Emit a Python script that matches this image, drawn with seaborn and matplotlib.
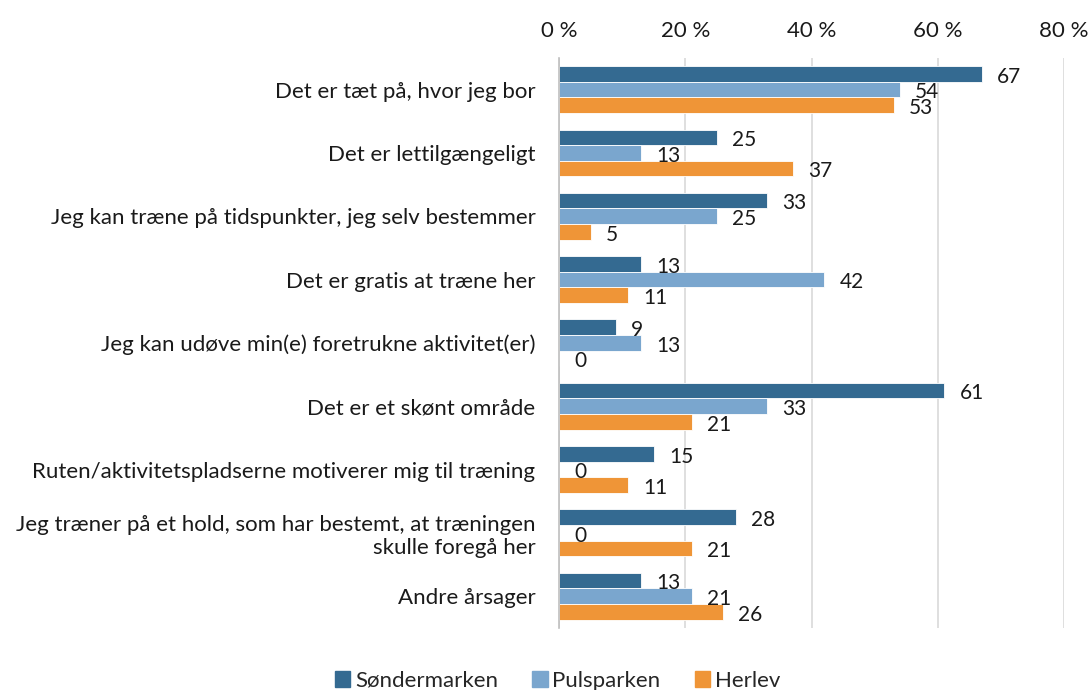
import pandas as pd
import matplotlib.pyplot as plt
import seaborn as sns

categories = [
    'Det er tæt på, hvor jeg bor',
    'Det er lettilgængeligt',
    'Jeg kan træne på tidspunkter, jeg selv bestemmer',
    'Det er gratis at træne her',
    'Jeg kan udøve min(e) foretrukne aktivitet(er)',
    'Det er et skønt område',
    'Ruten/aktivitetspladserne motiverer mig til træning',
    'Jeg træner på et hold, som har bestemt, at træningen\nskulle foregå her',
    'Andre årsager',
]
sondermarken = [67, 25, 33, 13, 9, 61, 15, 28, 13]
pulsparken = [54, 13, 25, 42, 13, 33, 0, 0, 21]
herlev = [53, 37, 5, 11, 0, 21, 11, 21, 26]
series = ['Søndermarken', 'Pulsparken', 'Herlev']
colors = ['#346A91', '#7AA6CE', '#EF9537']

rows = []
for name, vals in zip(series, [sondermarken, pulsparken, herlev]):
    for cat, v in zip(categories, vals):
        rows.append({'kategori': cat, 'park': name, 'pct': v})
df = pd.DataFrame(rows)

sns.set_style('white')
plt.rcParams['font.family'] = ['Lato', 'DejaVu Sans']
fs = 16

fig = plt.figure(figsize=(10.91, 6.9), dpi=100)
ax = fig.add_axes([0.5124, 0.09, 0.4629, 0.826])

sns.barplot(data=df, y='kategori', x='pct', hue='park', hue_order=series,
            palette=colors, orient='h', width=0.74, ax=ax, saturation=1,
            edgecolor='white', linewidth=0.6)

# value labels right of every bar
for cont in ax.containers:
    for bar in cont:
        v = bar.get_width()
        y = bar.get_y() + bar.get_height() / 2
        ax.annotate(f'{v:g}', (v, y), xytext=(11, -2), textcoords='offset points',
                    ha='left', va='center', fontsize=15, color='#1a1a1a')

ax.set_xlim(0, 80)
ax.set_xticks([0, 20, 40, 60, 80])
ax.set_xticklabels([f'{t} %' for t in [0, 20, 40, 60, 80]])
ax.xaxis.tick_top()
ax.tick_params(axis='x', length=0, pad=12, labelsize=fs, colors='#1a1a1a')
ax.tick_params(axis='y', length=0, pad=17, labelsize=fs, colors='#1a1a1a')
ax.set_xlabel('')
ax.set_ylabel('')
ax.grid(axis='x', color='#D9D9D9', linewidth=1.2)
ax.set_axisbelow(True)
for s in ['top', 'right', 'bottom']:
    ax.spines[s].set_visible(False)
ax.spines['left'].set_color('#BFBFBF')
ax.spines['left'].set_linewidth(1.2)

ax.get_legend().remove()
handles = [plt.Rectangle((0, 0), 1, 1, color=c) for c in colors]
fig.legend(handles, series, loc='lower center', bbox_to_anchor=(0.511, -0.03), ncol=3,
           frameon=False, fontsize=fs, handlelength=0.7, handleheight=0.7,
           handletextpad=0.2, columnspacing=1.55)

fig.savefig('out.png', dpi=100)
